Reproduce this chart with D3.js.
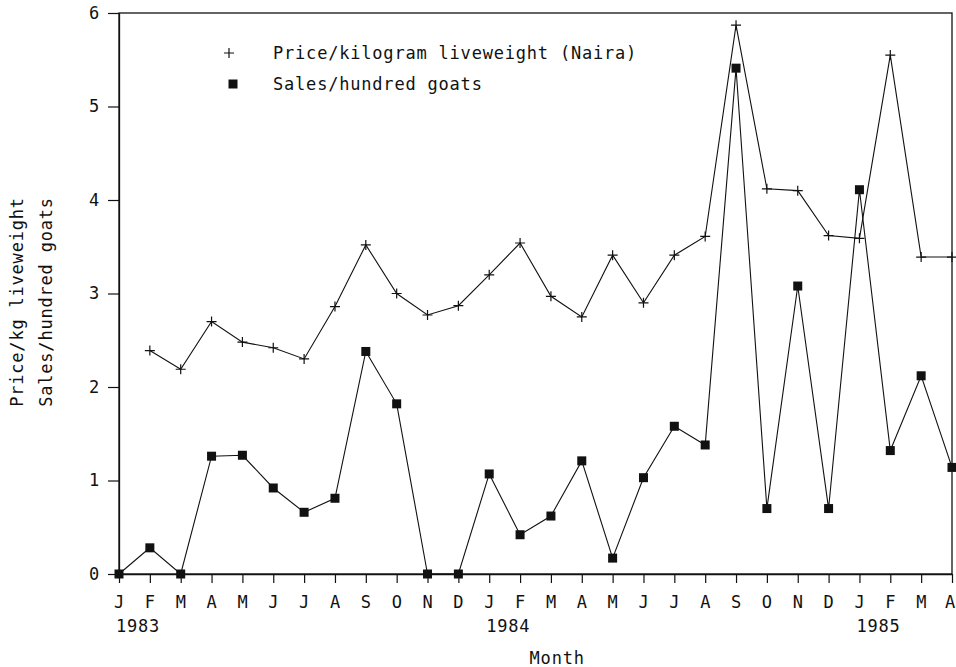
<!DOCTYPE html>
<html>
<head>
<meta charset="utf-8">
<script src="https://cdn.jsdelivr.net/npm/d3@7"></script>
<style>
  body { margin: 0; background: #fff; }
  text { font-family: "DejaVu Sans Mono", "Liberation Mono", monospace; font-size: 17px; fill: #111; letter-spacing: 0.8px; }
</style>
</head>
<body>
<div id="chart"></div>
<script>
// months J 1983 .. A 1985
const months = ["J","F","M","A","M","J","J","A","S","O","N","D",
                "J","F","M","A","M","J","J","A","S","O","N","D",
                "J","F","M","A"];
const years = [{ label: "1983", idx: 0 }, { label: "1984", idx: 12 }, { label: "1985", idx: 24 }];

// price per kg liveweight (Naira), starts in Feb 1983
const price = [null, 2.39, 2.19, 2.70, 2.48, 2.42, 2.30, 2.86, 3.52, 3.00, 2.77, 2.87,
               3.20, 3.54, 2.97, 2.75, 3.41, 2.90, 3.41, 3.61, 5.87, 4.12, 4.10, 3.62,
               3.59, 5.55, 3.39, 3.39];

// sales per hundred goats
const sales = [0, 0.28, 0, 1.26, 1.27, 0.92, 0.66, 0.81, 2.38, 1.82, 0, 0,
               1.07, 0.42, 0.62, 1.21, 0.17, 1.03, 1.58, 1.38, 5.41, 0.70, 3.08, 0.70,
               4.11, 1.32, 2.12, 1.14];

const yTicks = [0, 1, 2, 3, 4, 5, 6];

const W = 956, H = 667;
const margin = { top: 13, right: 4, bottom: 93, left: 119 };
const width = W - margin.left - margin.right;
const height = H - margin.top - margin.bottom;

const svg = d3.select("#chart").append("svg")
    .attr("width", W)
    .attr("height", H);

const g = svg.append("g")
    .attr("transform", `translate(${margin.left},${margin.top})`);

const x = d3.scaleLinear().domain([0, months.length - 1]).range([0, width]);
const y = d3.scaleLinear().domain([0, 6]).range([height, 0]);

// frame
g.append("rect")
    .attr("width", width)
    .attr("height", height)
    .attr("fill", "none")
    .attr("stroke", "#111")
    .attr("stroke-width", 1.3);

// y axis
const yAxis = g.append("g")
    .call(d3.axisLeft(y).tickValues(yTicks).tickSize(11).tickSizeOuter(0).tickPadding(8).tickFormat(d3.format("d")));
yAxis.select(".domain").attr("stroke", "#111").attr("stroke-width", 1.3);
yAxis.selectAll(".tick line").attr("stroke", "#111").attr("stroke-width", 1.2);
yAxis.selectAll("text").style("font-size", "17px").attr("fill", "#111");

// x axis
const xAxis = g.append("g")
    .attr("transform", `translate(0,${height})`)
    .call(d3.axisBottom(x).tickValues(d3.range(months.length)).tickSize(9).tickSizeOuter(0).tickPadding(13)
        .tickFormat(i => months[i]));
xAxis.select(".domain").attr("stroke", "#111").attr("stroke-width", 1.3);
xAxis.selectAll(".tick line").attr("stroke", "#111").attr("stroke-width", 1.2);
xAxis.selectAll("text").style("font-size", "17px").attr("fill", "#111");
// keep the last label inside the page
xAxis.selectAll(".tick text").filter(i => i === months.length - 1).attr("dx", -2);

// years
g.selectAll(".year")
    .data(years)
    .join("text")
    .attr("class", "year")
    .attr("x", d => x(d.idx) - 3)
    .attr("y", height + 52)
    .attr("dominant-baseline", "central")
    .text(d => d.label);

// axis titles
g.append("text")
    .attr("x", width * 0.526)
    .attr("y", height + 84)
    .attr("text-anchor", "middle")
    .attr("dominant-baseline", "central")
    .text("Month");

const yTitle = svg.append("text")
    .attr("transform", "translate(0,302) rotate(-90)")
    .attr("text-anchor", "middle");
yTitle.append("tspan").attr("x", 0).attr("y", 17).attr("dominant-baseline", "central").text("Price/kg liveweight");
yTitle.append("tspan").attr("x", 0).attr("y", 46).attr("dominant-baseline", "central").text("Sales/hundred goats");

// lines
const line = d3.line()
    .defined(d => d.v !== null)
    .x(d => x(d.i))
    .y(d => y(d.v));

const priceData = price.map((v, i) => ({ i, v }));
const salesData = sales.map((v, i) => ({ i, v }));

g.append("path")
    .datum(priceData)
    .attr("fill", "none")
    .attr("stroke", "#111")
    .attr("stroke-width", 1.1)
    .attr("d", line);

g.append("path")
    .datum(salesData)
    .attr("fill", "none")
    .attr("stroke", "#111")
    .attr("stroke-width", 1.1)
    .attr("d", line);

// plus markers
const plusSize = 5;
g.selectAll(".plus")
    .data(priceData.filter(d => d.v !== null))
    .join("path")
    .attr("class", "plus")
    .attr("d", d => {
        const cx = x(d.i), cy = y(d.v);
        return `M${cx - plusSize},${cy}H${cx + plusSize}M${cx},${cy - plusSize}V${cy + plusSize}`;
    })
    .attr("stroke", "#111")
    .attr("stroke-width", 1.2);

// square markers
const sq = 9;
g.selectAll(".sq")
    .data(salesData)
    .join("rect")
    .attr("class", "sq")
    .attr("x", d => x(d.i) - sq / 2)
    .attr("y", d => y(d.v) - sq / 2)
    .attr("width", sq)
    .attr("height", sq)
    .attr("fill", "#111");

// legend
const legend = svg.append("g");
legend.append("path")
    .attr("d", `M${229 - 5},53H${229 + 5}M229,${53 - 5}V${53 + 5}`)
    .attr("stroke", "#111")
    .attr("stroke-width", 1.2);
legend.append("text")
    .attr("x", 273)
    .attr("y", 53)
    .attr("dominant-baseline", "central")
    .text("Price/kilogram liveweight (Naira)");
legend.append("rect")
    .attr("x", 233 - 4.5)
    .attr("y", 84 - 4.5)
    .attr("width", 9)
    .attr("height", 9)
    .attr("fill", "#111");
legend.append("text")
    .attr("x", 273)
    .attr("y", 84)
    .attr("dominant-baseline", "central")
    .text("Sales/hundred goats");
</script>
</body>
</html>
